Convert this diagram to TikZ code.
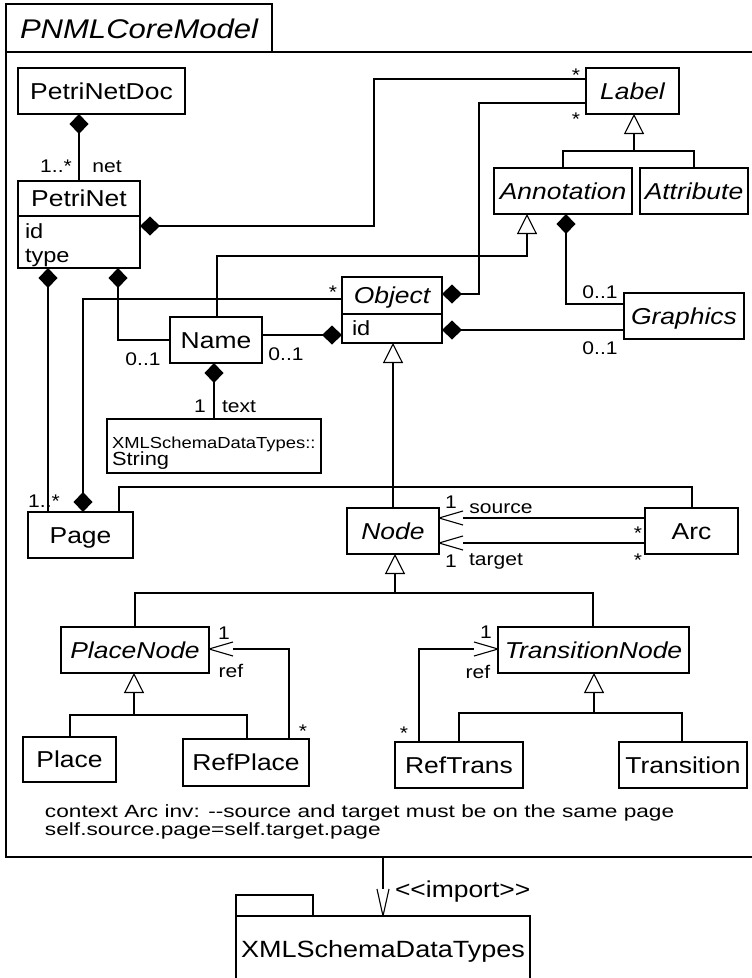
\documentclass[tikz,border=0pt]{standalone}
\usepackage{fontspec}
\setmainfont[FakeStretch=1.15]{Liberation Sans}
\newfontfamily\notefont[FakeStretch=1.28]{Liberation Sans}
\usetikzlibrary{arrows.meta}

% open "V" navigability head: the shaft stops where the two strokes open
\pgfdeclarearrow{
  name = OpenV,
  parameters = {\the\pgfarrowlength,\the\pgfarrowwidth},
  setup code = {
    \pgfarrowssettipend{0pt}
    \pgfarrowssetlineend{-\pgfarrowlength}
    \pgfarrowssetbackend{-\pgfarrowlength}
    \pgfarrowssavethe\pgfarrowlength
    \pgfarrowssavethe\pgfarrowwidth
  },
  drawing code = {
    \pgfsetroundjoin
    \pgfpathmoveto{\pgfqpoint{-\pgfarrowlength}{.5\pgfarrowwidth}}
    \pgfpathlineto{\pgfpointorigin}
    \pgfpathlineto{\pgfqpoint{-\pgfarrowlength}{-.5\pgfarrowwidth}}
    \pgfusepathqstroke
  },
  defaults = {length=24pt, width=14pt}
}

\tikzset{
  every node/.style={outer sep=0pt},
  boxfont/.style={font=\fontsize{23}{27}\selectfont},
  box/.style={draw, line width=1.2pt, rectangle, inner sep=0pt, boxfont,
    text height=16.5pt, text depth=0pt},
  abox/.style={box, font=\fontsize{23}{27}\selectfont\itshape},
  txt/.style={inner sep=0pt, boxfont, text height=16.5pt, text depth=0pt},
  attrtxt/.style={inner sep=0pt, anchor=base west, font=\fontsize{20.5}{24}\selectfont},
  mult/.style={inner sep=0pt, anchor=base, font=\fontsize{18.3}{22}\selectfont},
  wire/.style={line width=1.1pt},
  comp/.style={wire, {Diamond[length=20pt,width=19pt]}-},
  gen/.style={wire, -{Triangle[open,length=20pt,width=20pt,line width=1.1pt]}},
  nav/.style={wire, -{OpenV[length=24pt,width=14pt]}},
}

\begin{document}
\begin{tikzpicture}[x=1pt,y=-1pt]
\useasboundingbox (0,0) rectangle (752,978);

% ---- package frame PNMLCoreModel ----
\node[draw, line width=1.8pt, inner sep=0pt, minimum width=754pt, minimum height=805pt]
  (frame) at (383,454.5) {};
\draw[line width=1.6pt] (frame.north west) -- ++(0,-48) -- ++(266,0) -- ++(0,48);
\node[inner sep=0pt, anchor=base west, font=\fontsize{27}{32}\selectfont\itshape]
  (title) at (20,38) {PNMLCoreModel};

% ---- classes ----
\node[box, minimum width=167pt, minimum height=46pt] (doc) at (101.5,91) {PetriNetDoc};

\node[box, minimum width=122pt, minimum height=87pt] (pn) at (79,224.5) {};
\draw[line width=1.2pt] (pn.west |- 0,216) -- (pn.east |- 0,216);
\node[txt] (pnname) at (79,198.5) {PetriNet};
\node[attrtxt] (pnid) at (25,238) {id};
\node[attrtxt] (pntype) at (25,262) {type};

\node[abox, minimum width=93pt, minimum height=46pt] (label) at (632.5,91) {Label};
\node[abox, minimum width=138pt, minimum height=46pt] (annot) at (563,191) {Annotation};
\node[abox, minimum width=108pt, minimum height=46pt] (attrib) at (694,191) {Attribute};

\node[box, minimum width=100pt, minimum height=66pt] (obj) at (392,310) {};
\draw[line width=1.2pt] (obj.west |- 0,314) -- (obj.east |- 0,314);
\node[txt, font=\fontsize{23}{27}\selectfont\itshape] (objname) at (392,295.5) {Object};
\node[attrtxt] (objid) at (352,335) {id};

\node[abox, minimum width=120pt, minimum height=46pt] (graphics) at (684,316) {Graphics};
\node[box, minimum width=92pt, minimum height=46pt] (name) at (216,340) {Name};

\node[box, minimum width=214pt, minimum height=54pt] (string) at (214,446) {};
\node[inner sep=0pt, anchor=base west, font=\fontsize{16}{19}\selectfont]
  (strpkg) at (112,448) {XMLSchemaDataTypes::};
\node[inner sep=0pt, anchor=base west, font=\fontsize{19}{22}\selectfont]
  (strname) at (112,465) {String};

\node[box, minimum width=105pt, minimum height=46pt] (page) at (80.5,535) {Page};
\node[abox, minimum width=92pt, minimum height=46pt] (nodecls) at (393,531) {Node};
\node[box, minimum width=93pt, minimum height=46pt] (arc) at (691.5,531) {Arc};

\node[abox, minimum width=148pt, minimum height=46pt] (placenode) at (135,650) {PlaceNode};
\node[abox, minimum width=191pt, minimum height=46pt] (transnode) at (593.5,650) {TransitionNode};

\node[box, minimum width=93pt, minimum height=45pt] (place) at (69.5,759.5) {Place};
\node[box, minimum width=126pt, minimum height=47pt] (refplace) at (246,762.5) {RefPlace};
\node[box, minimum width=128pt, minimum height=46pt] (reftrans) at (459,765) {RefTrans};
\node[box, minimum width=128pt, minimum height=46pt] (transition) at (683,765) {Transition};

% ---- compositions ----
\draw[comp] (doc.south -| 79,0) -- (pn.north -| 79,0);
\draw[comp] (pn.east |- 0,226) -| (374,79) -- (label.west |- 0,79);
\draw[comp] (obj.east |- 0,294) -| (479,103) -- (label.west |- 0,103);
\draw[comp] (annot.south -| 566,0) |- (graphics.west |- 0,304);
\draw[comp] (obj.east |- 0,330) -- (graphics.west |- 0,330);
\draw[comp] (page.north -| 83,0) |- (obj.west |- 0,299);
\draw[comp] (pn.south -| 48,0) -- (page.north -| 48,0);
\draw[comp] (pn.south -| 118,0) |- (name.west |- 0,340);
\draw[comp] (obj.west |- 0,335) -- (name.east |- 0,335);
\draw[comp] (name.south -| 214,0) -- (string.north -| 214,0);

% ---- plain and navigable associations ----
\draw[wire] (page.north -| 119,0) |- (692,487) -- (arc.north -| 692,0);
\draw[nav] (arc.west |- 0,518) -- (nodecls.east |- 0,518);
\draw[nav] (arc.west |- 0,543) -- (nodecls.east |- 0,543);
\draw[nav] (refplace.north -| 289,0) |- (placenode.east |- 0,649);
\draw[nav] (reftrans.north -| 419,0) |- (transnode.west |- 0,649);

% ---- generalizations ----
\draw[gen] (annot.north -| 563,0) |- (634,151) -- (label.south -| 634,0);
\draw[wire] (attrib.north -| 694,0) |- (634,151);
\draw[gen] (name.north -| 217,0) |- (527,256) -- (annot.south -| 527,0);
\draw[gen, line width=1.7pt] (nodecls.north -| 393,0) -- (obj.south -| 393,0);
\draw[gen] (placenode.north -| 135,0) |- (395,593) -- (nodecls.south -| 395,0);
\draw[wire] (transnode.north -| 593,0) |- (395,593);
\draw[gen] (place.north -| 70,0) |- (134,715) -- (placenode.south -| 134,0);
\draw[wire] (refplace.north -| 247,0) |- (134,715);
\draw[gen] (reftrans.north -| 459,0) |- (594,713) -- (transnode.south -| 594,0);
\draw[wire] (transition.north -| 682,0) |- (594,713);

% ---- association end labels ----
\node[mult] (mDocA) at (56,172) {1..*};
\node[mult] (mDocB) at (107,172) {net};
\node[mult] (mLabA) at (576,81) {*};
\node[mult] (mLabB) at (576,125) {*};
\node[mult] (mGrA) at (600,298) {0..1};
\node[mult] (mGrB) at (600,354) {0..1};
\node[mult] (mObj) at (333,298) {*};
\node[mult] (mNmA) at (143,365) {0..1};
\node[mult] (mNmB) at (286,360) {0..1};
\node[mult] (mTxA) at (200,412) {1};
\node[mult] (mTxB) at (239,412) {text};
\node[mult] (mPg) at (44,507) {1..*};
\node[mult] (mSrcA) at (451,508) {1};
\node[mult] (mSrcB) at (501,513) {source};
\node[mult] (mSrcC) at (638,539) {*};
\node[mult] (mTgtC) at (638,566) {*};
\node[mult] (mTgtA) at (451,567) {1};
\node[mult] (mTgtB) at (496,565) {target};
\node[mult] (mPrA) at (224,639) {1};
\node[mult] (mPrB) at (231,677) {ref};
\node[mult] (mPrC) at (303,737) {*};
\node[mult] (mTrA) at (486,638) {1};
\node[mult] (mTrB) at (478,678) {ref};
\node[mult] (mTrC) at (404,739) {*};

% ---- OCL constraint ----
\node[inner sep=0pt, anchor=base west, font=\notefont\fontsize{17.7}{20}\selectfont]
  (inv1) at (45,817) {context Arc inv: -{}-source and target must be on the same page};
\node[inner sep=0pt, anchor=base west, font=\notefont\fontsize{17.7}{20}\selectfont]
  (inv2) at (45,835) {self.source.page=self.target.page};

% ---- imported package ----
\node[draw, line width=1.2pt, inner sep=0pt, minimum width=294pt, minimum height=66pt,
  font=\fontsize{23.5}{27}\selectfont, text height=16.8pt, text depth=0pt]
  (pkg) at (383,949) {XMLSchemaDataTypes};
\draw[line width=1.2pt] (pkg.north west) -- ++(0,-21) -- ++(77,0) -- ++(0,21);
\draw[wire, -{OpenV[length=27pt,width=12pt]}] (frame.south) -- (pkg.north);
\node[inner sep=0pt, anchor=base west, font=\fontsize{23}{27}\selectfont]
  (imp) at (395,897) {<{}<import>{}>};
\end{tikzpicture}
\end{document}
